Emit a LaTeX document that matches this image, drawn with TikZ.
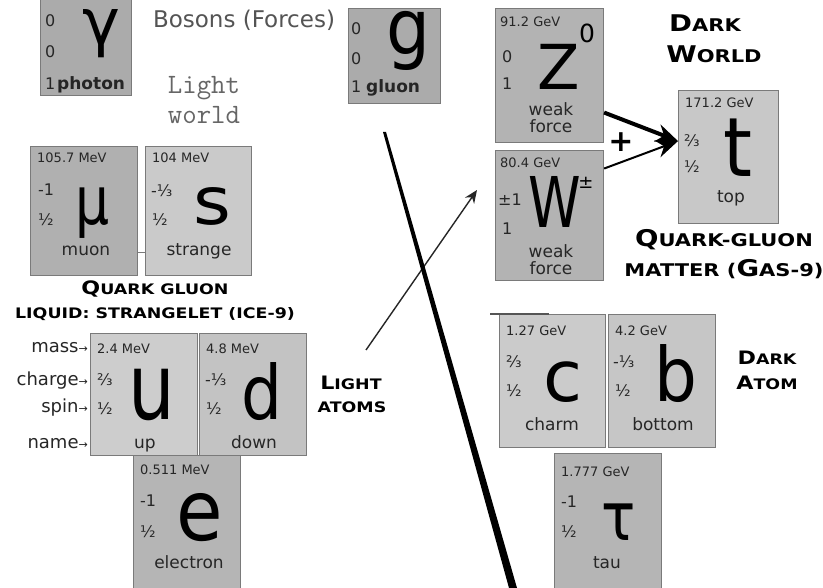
\documentclass[tikz,border=0pt]{standalone}
\usepackage{fontspec}
\usepackage{graphicx}
\setmainfont{DejaVu Sans}
\newfontfamily\headfont[FakeStretch=1.2]{DejaVu Sans}
\usetikzlibrary{arrows.meta}
\definecolor{boxline}{HTML}{7A7A7A}
\definecolor{txt}{HTML}{262626}
\definecolor{cPh}{HTML}{ABABAB}
\definecolor{cZ}{HTML}{B3B3B3}
\definecolor{cTop}{HTML}{C8C8C8}
\definecolor{cMu}{HTML}{B0B0B0}
\definecolor{cS}{HTML}{CACACA}
\definecolor{cU}{HTML}{CDCDCD}
\definecolor{cD}{HTML}{C3C3C3}
\definecolor{cE}{HTML}{B5B5B5}
\definecolor{cC}{HTML}{CBCBCB}
\definecolor{cB}{HTML}{C6C6C6}
\definecolor{cTau}{HTML}{B5B5B5}
\newcommand\BG[1]{{\fontsize{\bigsz}{\bigsz}\selectfont #1}}
\newcommand\SM[1]{{\fontsize{\smsz}{\smsz}\selectfont #1}}
\newcommand\fs[1]{\fontsize{#1}{#1}\selectfont}
\begin{document}
\begin{tikzpicture}[x=1pt,y=-1pt,
  pbox/.style={draw=boxline, line width=1.1pt, anchor=north west, inner sep=0pt},
  mass/.style={font=\fs{13}, text=txt, anchor=base west, inner sep=0pt},
  qn/.style={font=\fs{16}, text=txt, anchor=base west, inner sep=0pt},
  lbl/.style={font=\fs{17}, text=txt, anchor=base, inner sep=0pt},
  sym/.style={text=black, anchor=base, inner sep=0pt},
  headA/.style={font=\headfont\bfseries, text=black, anchor=base, inner sep=0pt,
     execute at begin node={\def\bigsz{23}\def\smsz{17.5}}},
  headB/.style={font=\headfont\bfseries, text=black, anchor=base, inner sep=0pt,
     execute at begin node={\def\bigsz{18.5}\def\smsz{14.5}}},
  side/.style={font=\fs{18}, text=txt, anchor=base east, inner sep=0pt},
  bigarrow/.style={-{Stealth[length=22pt,width=18pt]}, black},
]
\useasboundingbox (0,0) rectangle (823,588);
\clip (0,0) rectangle (823,588);
\fill[white] (0,0) rectangle (823,588);

% ---------- bosons ----------
\node[pbox, fill=cPh, minimum width=91pt, minimum height=110pt] (photon) at (40,-15) {};
\node[qn] (phA) at (45,27) {0};
\node[qn] (phB) at (45,58) {0};
\node[qn] (phC) at (45,90) {1};
\node[lbl, font=\fs{17}\bfseries, anchor=base west] (phN) at (57,90) {photon};
\node[sym] (phS) at (101,45) {\fs{64}γ};

\node[pbox, fill=cPh, minimum width=92pt, minimum height=95pt] (gluon) at (348,8) {};
\node[qn] (glA) at (351,35) {0};
\node[qn] (glB) at (351,65) {0};
\node[qn] (glC) at (351,93) {1};
\node[lbl, font=\fs{17}\bfseries, anchor=base west] (glN) at (366,93) {gluon};
\node[sym] (glS) at (408,55) {\fs{77}\scalebox{0.9}[1]{g}};

\node[pbox, fill=cZ, minimum width=108pt, minimum height=134pt] (Z) at (495,8) {};
\node[mass] (ZM) at (500,27) {91.2 GeV};
\node[qn] (ZA) at (502,63) {0};
\node[qn] (ZB) at (502,90) {1};
\node[sym] (ZS) at (559,90) {\fs{62}Z};
\node[sym] (ZX) at (587,43) {\fs{25}0};
\node[lbl] (ZN1) at (551,116) {weak};
\node[lbl] (ZN2) at (551,133) {force};

\node[pbox, fill=cZ, minimum width=108pt, minimum height=130pt] (W) at (495,150) {};
\node[mass] (WM) at (500,168) {80.4 GeV};
\node[qn] (WA) at (498,206) {±1};
\node[qn] (WB) at (502,235) {1};
\node[sym] (WS) at (555,228) {\fs{70}\scalebox{0.76}[1]{W}};
\node[sym, anchor=center] (WX) at (586,183) {\fs{18}±};
\node[lbl] (WN1) at (551,258) {weak};
\node[lbl] (WN2) at (551,275) {force};

\node[pbox, fill=cTop, minimum width=100pt, minimum height=133pt] (top) at (678,90) {};
\node[mass] (tM) at (685,108) {171.2 GeV};
\node[qn] (tA) at (684,147) {⅔};
\node[qn] (tB) at (684,173) {½};
\node[sym] (tS) at (738,177) {\fs{82}\scalebox{0.9}[1]{t}};
\node[lbl] (tN) at (731,203) {top};

% ---------- second generation ----------
\node[pbox, fill=cMu, minimum width=107pt, minimum height=129pt] (muon) at (30,146) {};
\node[mass] (muM) at (37,163) {105.7 MeV};
\node[qn] (muA) at (38,196) {-1};
\node[qn] (muB) at (38,226) {½};
\node[sym] (muS) at (93,225) {\fs{67}\scalebox{0.8}[1]{μ}};
\node[lbl] (muN) at (86,256) {muon};

\node[pbox, fill=cS, minimum width=106pt, minimum height=129pt] (strange) at (145,146) {};
\node[mass] (sM) at (152,163) {104 MeV};
\node[qn] (sA) at (151,197) {-⅓};
\node[qn] (sB) at (152,226) {½};
\node[sym] (sS) at (212,225) {\fs{66}\scalebox{1.1}[1]{s}};
\node[lbl] (sN) at (199,256) {strange};
\draw[boxline, line width=0.8pt] ([yshift=-41pt]muon.east) -- ([yshift=-41pt]strange.west);

% ---------- first generation ----------
\node[pbox, fill=cU, minimum width=107pt, minimum height=122pt] (up) at (90,333) {};
\node[mass] (uM) at (97,354) {2.4 MeV};
\node[qn] (uA) at (97,386) {⅔};
\node[qn] (uB) at (97,414) {½};
\node[sym] (uS) at (152,420) {\fs{92}\scalebox{0.8}[1]{u}};
\node[lbl] (uN) at (145,448) {up};

\node[pbox, fill=cD, minimum width=107pt, minimum height=122pt] (down) at (199,333) {};
\node[mass] (dM) at (206,354) {4.8 MeV};
\node[qn] (dA) at (205,386) {-⅓};
\node[qn] (dB) at (206,414) {½};
\node[sym] (dS) at (262,420) {\fs{75}\scalebox{0.86}[1]{d}};
\node[lbl] (dN) at (254,448) {down};

\node[pbox, fill=cE, minimum width=107pt, minimum height=140pt] (electron) at (133,455) {};
\node[mass] (eM) at (140,475) {0.511 MeV};
\node[qn] (eA) at (140,506) {-1};
\node[qn] (eB) at (140,537) {½};
\node[sym] (eS) at (200,540) {\fs{84}\scalebox{0.9}[1]{e}};
\node[lbl] (eN) at (189,568) {electron};

\node[side] (sideM) at (88,353) {mass{\fs{11}→}};
\node[side] (sideC) at (88,385) {charge{\fs{11}→}};
\node[side] (sideS) at (88,413) {spin{\fs{11}→}};
\node[side] (sideN) at (88,449) {name{\fs{11}→}};

% ---------- third generation ----------
\node[pbox, fill=cC, minimum width=106pt, minimum height=133pt] (charm) at (499,314) {};
\draw[boxline!70!black, line width=1.1pt] ([xshift=-9pt]charm.north west) -- ([xshift=50pt]charm.north west);
\node[mass] (cM) at (506,336) {1.27 GeV};
\node[qn] (cA) at (506,367) {⅔};
\node[qn] (cB) at (506,396) {½};
\node[sym] (cS) at (563,402) {\fs{71}c};
\node[lbl] (cN) at (552,430) {charm};

\node[pbox, fill=cB, minimum width=107pt, minimum height=133pt] (bottom) at (608,314) {};
\node[mass] (bM) at (615,336) {4.2 GeV};
\node[qn] (bA) at (613,367) {-⅓};
\node[qn] (bB) at (615,396) {½};
\node[sym] (bS) at (676,402) {\fs{75}\scalebox{0.9}[1]{b}};
\node[lbl] (bN) at (663,430) {bottom};

\node[pbox, fill=cTau, minimum width=107pt, minimum height=140pt] (tau) at (554,453) {};
\node[mass] (tauM) at (561,476) {1.777 GeV};
\node[qn] (tauA) at (561,507) {-1};
\node[qn] (tauB) at (561,537) {½};
\node[sym] (tauS) at (619,540) {\fs{67}\scalebox{0.85}[1]{τ}};
\node[lbl] (tauN) at (607,568) {tau};

% ---------- headings ----------
\node[font=\fs{23}, text=black!67, anchor=base, inner sep=0pt] (bosons) at (244,28) {Bosons (Forces)};
\node[font=\ttfamily\fs{28}, text=black!60, anchor=base, inner sep=0pt] (lw1) at (204,94) {Light};
\node[font=\ttfamily\fs{28}, text=black!60, anchor=base, inner sep=0pt] (lw2) at (204,124) {world};

\node[headA] (dw1) at (705,32) {\BG{D}\SM{ARK}};
\node[headA] (dw2) at (714,63) {\BG{W}\SM{ORLD}};
\node[headA] (qg1) at (724,247) {\BG{Q}\SM{UARK-GLUON}};
\node[headA] (qg2) at (724,277) {\SM{MATTER (}\BG{G}\SM{AS-9)}};

\node[headB] (ql1) at (155,295) {\BG{Q}\SM{UARK GLUON}};
\node[headB] (ql2) at (155,319) {\SM{LIQUID: STRANGELET (ICE-9)}};
\node[headB] (la1t) at (351,390) {\BG{L}\SM{IGHT}};
\node[headB] (la2t) at (352,413) {\SM{ATOMS}};
\node[headB] (da1) at (767,365) {\BG{D}\SM{ARK}};
\node[headB] (da2) at (767,390) {\BG{A}\SM{TOM}};

% ---------- arrows ----------
\draw[bigarrow, line width=4pt] ([yshift=-37pt]Z.east) -- ([yshift=16pt]top.west);
\draw[bigarrow, line width=2pt] ([yshift=47pt]W.east) -- ([yshift=16pt]top.west);
\node[font=\fs{30}\bfseries, inner sep=0pt] (plus) at (621,142) {+};

\coordinate (lt1) at (366,350);
\coordinate (lt2) at (477,190);
\draw[-{Stealth[length=13pt,width=11pt]}, line width=1.4pt, black!85] (lt1) -- (lt2);

\fill[black] (383,132) -- (386,132) -- (517,588) -- (509,588) -- cycle;
\end{tikzpicture}
\end{document}
